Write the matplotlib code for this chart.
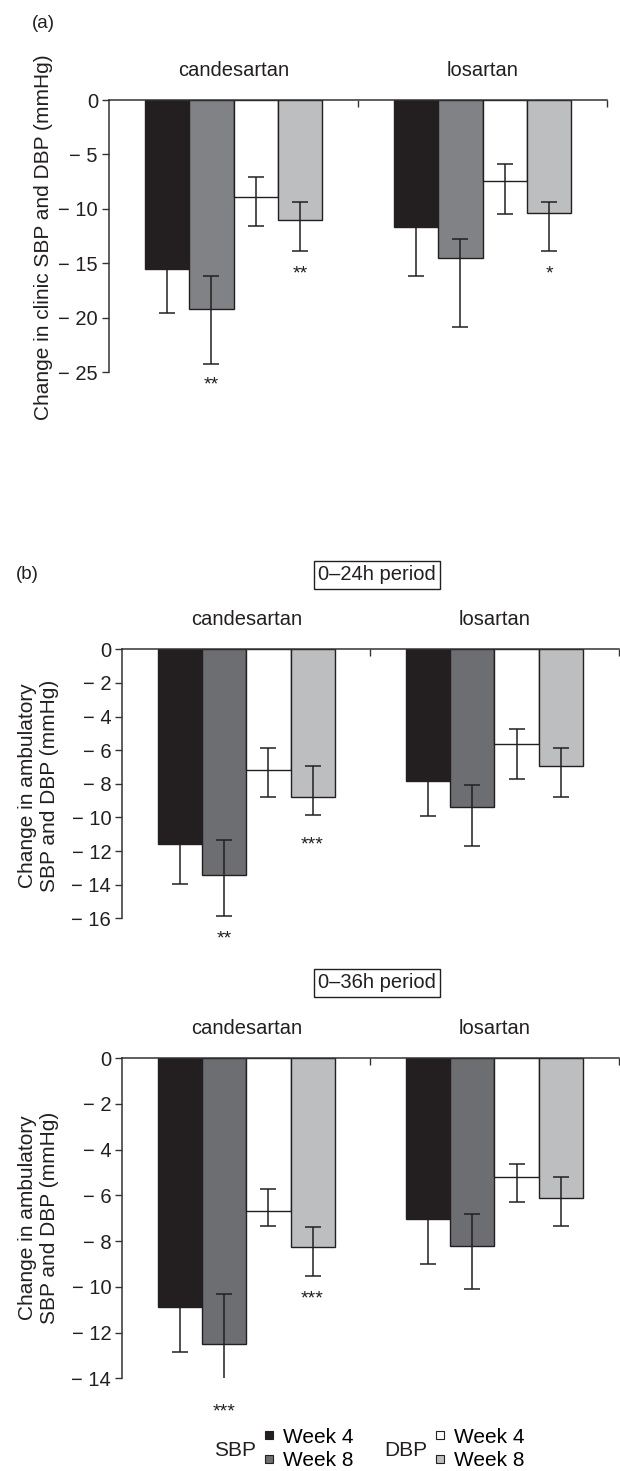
import matplotlib
matplotlib.use('Agg')
import matplotlib.pyplot as plt
import matplotlib.transforms as mtransforms
from matplotlib.lines import Line2D
from matplotlib.ticker import FixedLocator, FuncFormatter
import numpy as np

plt.rcParams['font.family'] = ['Liberation Sans', 'DejaVu Sans']

W, H, DPI = 620, 1471, 100

categories = ['candesartan', 'losartan']
series_labels = ['SBP Week 4', 'SBP Week 8', 'DBP Week 4', 'DBP Week 8']

# ---- Panel (a): clinic SBP/DBP change (mmHg); order: SBP w4, SBP w8, DBP w4, DBP w8
a_mean = [[-15.5, -11.7], [-19.2, -14.5], [-8.9, -7.45], [-11.0, -10.35]]
a_upper = [[-11.4, -7.2], [-16.2, -12.75], [-7.05, -5.9], [-9.35, -9.35]]
a_lower = [[-19.6, -16.2], [-24.2, -20.8], [-11.6, -10.45], [-13.9, -13.9]]
a_yticks = [0, -5, -10, -15, -20, -25]
a_stars = [('**', 1, 0, -25.6), ('**', 3, 0, -15.4), ('*', 3, 1, -15.4)]

# ---- Panel (b) top: ambulatory 0-24h period
b1_mean = [[-11.6, -7.83], [-13.4, -9.36], [-7.2, -5.65], [-8.78, -6.94]]
b1_upper = [[-9.2, -5.8], [-11.32, -8.05], [-5.85, -4.72], [-6.94, -5.87]]
b1_lower = [[-13.98, -9.89], [-15.84, -11.7], [-8.8, -7.69], [-9.87, -8.8]]
b1_yticks = [0, -2, -4, -6, -8, -10, -12, -14, -16]
b1_stars = [('**', 1, 0, -16.82), ('***', 3, 0, -11.27)]

# ---- Panel (b) bottom: ambulatory 0-36h period
b2_mean = [[-10.87, -7.05], [-12.5, -8.23], [-6.69, -5.2], [-8.28, -6.1]]
b2_upper = [[-8.88, -5.08], [-10.33, -6.8], [-5.74, -4.65], [-7.37, -5.2]]
b2_lower = [[-12.86, -9.02], [-14.41, -10.1], [-7.36, -6.28], [-9.53, -7.36]]
b2_yticks = [0, -2, -4, -6, -8, -10, -12, -14]
b2_stars = [('***', 1, 0, -15.17), ('***', 3, 0, -10.27)]

colors_a = ['#231f20', '#808285', '#ffffff', '#bcbec0']
colors_b = ['#231f20', '#6d6e71', '#ffffff', '#bcbec0']
edge = '#231f20'
spine_c = '#333333'

fig = plt.figure(figsize=(W / DPI, H / DPI), dpi=DPI)


def px_axes(x0, x1, ytop, ybot):
    return fig.add_axes([x0 / W, 1 - ybot / H, (x1 - x0) / W, (ybot - ytop) / H])


def fmt(v, pos):
    v = int(round(v))
    return '0' if v == 0 else '\u2212 ' + str(abs(v))


def draw_panel(ax, mean, upper, lower, colors, yticks, stars):
    x = np.arange(len(categories))
    w = 0.178
    for i in range(4):
        xs = x + (i - 1.5) * w
        m = np.array(mean[i])
        lo = np.array(lower[i])
        hi = np.array(upper[i])
        ax.bar(xs, m, width=w, color=colors[i], edgecolor=edge, linewidth=1.0,
               zorder=2, label=series_labels[i])
        ax.errorbar(xs, m, yerr=np.vstack([m - lo, hi - m]), fmt='none',
                    ecolor=edge, elinewidth=1.1, capsize=5.5, capthick=1.1, zorder=3)
    ax.set_xlim(-0.5, 1.5)
    ax.set_ylim(min(yticks), 0)
    for s in ['bottom', 'right']:
        ax.spines[s].set_visible(False)
    for s in ['top', 'left']:
        ax.spines[s].set_color(spine_c)
        ax.spines[s].set_linewidth(1.1)
    ax.xaxis.set_ticks_position('top')
    ax.set_xticks([0.5, 1.5])
    ax.set_xticklabels([])
    ax.tick_params(axis='x', direction='in', length=5, width=1.0, color=spine_c)
    ax.yaxis.set_major_locator(FixedLocator(yticks))
    ax.yaxis.set_major_formatter(FuncFormatter(fmt))
    ax.tick_params(axis='y', direction='out', length=5, width=1.0, color=spine_c,
                   labelsize=14.5, pad=3, labelcolor='#231f20')
    tr = ax.get_xaxis_transform() + mtransforms.ScaledTranslation(0, 0.24, fig.dpi_scale_trans)
    for i, c in enumerate(categories):
        ax.text(i, 1, c, transform=tr, ha='center', va='baseline', fontsize=14.5,
                color='#231f20')
    for txt, si, ci, yv in stars:
        xs = ci + (si - 1.5) * w
        ax.annotate(txt, xy=(xs, yv), xytext=(0, -11), textcoords='offset pixels',
                    ha='center', va='baseline', fontsize=14, color='#231f20',
                    annotation_clip=False)


ax_a = px_axes(109, 607, 100, 372.3)
draw_panel(ax_a, a_mean, a_upper, a_lower, colors_a, a_yticks, a_stars)

ax_b1 = px_axes(122.3, 618.5, 649.3, 918.3)
draw_panel(ax_b1, b1_mean, b1_upper, b1_lower, colors_b, b1_yticks, b1_stars)

ax_b2 = px_axes(122.3, 618.5, 1058, 1378.3)
draw_panel(ax_b2, b2_mean, b2_upper, b2_lower, colors_b, b2_yticks, b2_stars)


def ftext(x, y, s, **kw):
    return fig.text(x / W, 1 - y / H, s, **kw)


ftext(43, 23, '(a)', ha='center', va='center', fontsize=13.5, color='#231f20')
ftext(27, 575, '(b)', ha='center', va='center', fontsize=13.5, color='#231f20')

ftext(43.5, 237, 'Change in clinic SBP and DBP (mmHg)', rotation=90,
      ha='center', va='center', fontsize=15, color='#231f20')
ftext(38.5, 786, 'Change in ambulatory\nSBP and DBP (mmHg)', rotation=90,
      ha='center', va='center', fontsize=15, color='#231f20', linespacing=1.2)
ftext(38.5, 1218, 'Change in ambulatory\nSBP and DBP (mmHg)', rotation=90,
      ha='center', va='center', fontsize=15, color='#231f20', linespacing=1.2)

box = dict(boxstyle='square,pad=0.2', facecolor='white', edgecolor='#231f20', linewidth=1.0)
ftext(377, 575, '0\u201324h period', ha='center', va='center', fontsize=14.5,
      color='#231f20', bbox=box)
ftext(377, 983, '0\u201336h period', ha='center', va='center', fontsize=14.5,
      color='#231f20', bbox=box)


# legend
def handle(c):
    return Line2D([], [], marker='s', ls='none', markersize=5.5, markerfacecolor=c,
                  markeredgecolor=edge, markeredgewidth=0.8)


leg_kw = dict(frameon=False, fontsize=15, handlelength=0.55, handletextpad=0.4,
              labelspacing=0.22, borderpad=0, borderaxespad=0, loc='center left')
fig.legend([handle(colors_b[0]), handle(colors_b[1])], ['Week 4', 'Week 8'],
           bbox_to_anchor=(263 / W, 1 - 1449 / H), **leg_kw)
fig.legend([handle(colors_b[2]), handle(colors_b[3])], ['Week 4', 'Week 8'],
           bbox_to_anchor=(434 / W, 1 - 1449 / H), **leg_kw)
ftext(235, 1450, 'SBP', ha='center', va='center', fontsize=15, color='#231f20')
ftext(406, 1450, 'DBP', ha='center', va='center', fontsize=15, color='#231f20')

fig.savefig('out.png', dpi=DPI)
